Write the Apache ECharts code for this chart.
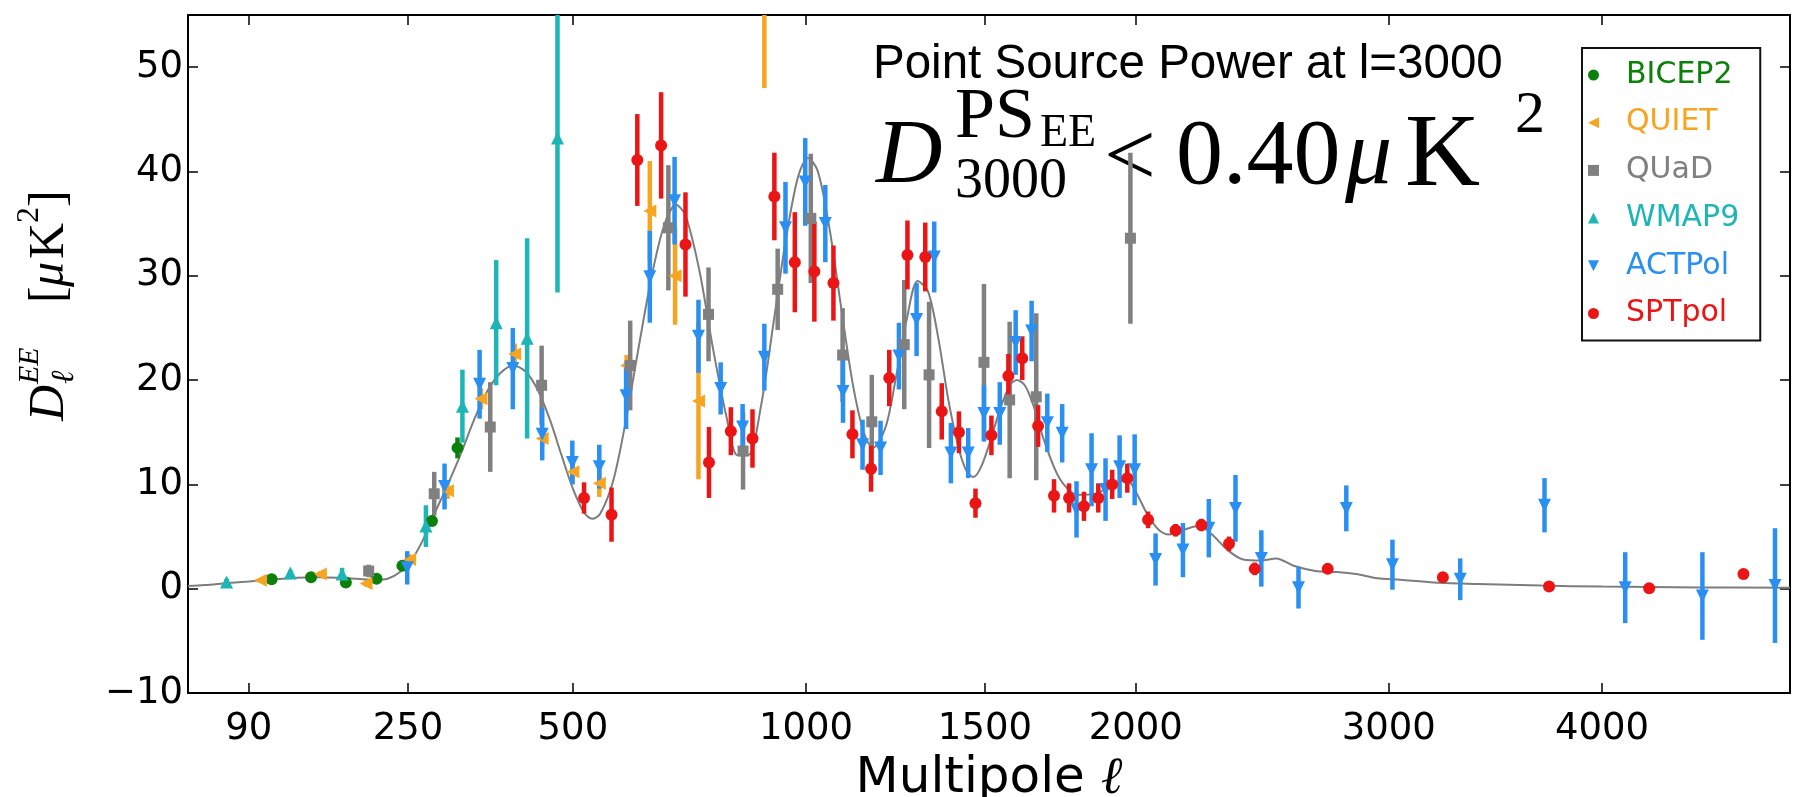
<!DOCTYPE html>
<html><head><meta charset="utf-8">
<script src="https://cdn.jsdelivr.net/npm/echarts@6/dist/echarts.min.js"></script>
<style>html,body{margin:0;padding:0;background:#fff}#c{width:1798px;height:797px}</style>
</head><body><div id="c"></div>
<script>
// ---- tick labels ----
const X_TICKS = [90, 250, 500, 1000, 1500, 2000, 3000, 4000];
const Y_TICKS = [-10, 0, 10, 20, 30, 40, 50];

// ---- theory curve (multipole l, D_l) ----
const THEORY_L = [50,60,75,90,110,130,150,170,190,210,225,240,255,270,285,300,320,340,360,380,400,420,440,460,480,500,520,535,550,575,600,625,650,675,700,720,750,780,810,835,860,890,920,950,980,1005,1030,1060,1090,1120,1150,1175,1210,1240,1270,1300,1330,1360,1390,1420,1445,1465,1490,1520,1550,1580,1600,1625,1650,1690,1740,1800,1860,1920,1970,2000,2040,2080,2120,2180,2230,2280,2340,2400,2470,2530,2600,2690,2780,2860,2950,3050,3200,3400,3700,4000,4500,5000];
const THEORY_D = [0.25,0.35,0.55,0.7,0.9,1.05,1.1,1.05,0.95,0.85,0.95,1.6,2.8,4.8,7.3,9.6,12.8,16.2,19.0,20.7,21.4,20.8,19.0,16.2,12.8,9.6,7.3,6.7,7.2,10.5,16.5,23.5,30,34.8,36.8,35.8,30.5,23,16.5,12.8,12.8,17.5,25.5,33.5,39.5,41.3,40,34.5,27,19.8,15,13.5,15.5,20.5,26,29.5,28.5,24,18,13.5,11.2,10.7,11.8,14.5,17.5,19.6,20.0,19.5,17.8,14,10.5,9,9.1,10,10.4,9.3,7.2,5.7,5.2,5.7,6.0,5.2,3.7,2.8,2.7,2.9,2.2,1.7,1.6,1.4,1.0,0.85,0.6,0.45,0.3,0.2,0.12,0.1];

// ---- BICEP2 ----
const BICEP2_L = [108, 143, 178, 212, 243, 281, 316];
const BICEP2_D = [0.9, 1.1, 0.6, 0.95, 2.2, 6.5, 13.5];
const BICEP2_ERR = [0.2, 0.2, 0.25, 0.2, 0.3, 0.5, 1.0];

// ---- QUIET ----
const QUIET_L = [99, 152, 200, 252, 302, 350, 402, 447, 500, 548, 600, 646, 698, 748, 898];
const QUIET_D = [0.8, 1.4, 0.5, 2.8, 9.4, 18.2, 22.5, 14.4, 11.2, 10.1, 21.4, 36.2, 30.0, 18.0, 60.0];
const QUIET_ERR = [0.2, 0.25, 0.3, 0.5, 0.8, 1.0, 1.0, 0.8, 1.2, 1.3, 1.0, 4.8, 4.7, 7.5, 12.0];

// ---- QUaD ----
const QUAD_L = [203, 284, 364, 446, 607, 684, 770, 848, 930, 1012, 1094, 1172, 1262, 1333, 1497, 1577, 1662, 1981];
const QUAD_D = [1.7, 9.1, 15.5, 19.5, 21.4, 34.6, 26.3, 13.2, 28.7, 35.5, 22.4, 16.0, 23.4, 20.5, 21.7, 18.1, 18.4, 33.6];
const QUAD_ERR = [0.6, 2.1, 4.3, 3.8, 4.3, 6.0, 4.5, 3.7, 3.9, 6.2, 4.5, 4.5, 6.2, 7.0, 7.5, 7.5, 8.0, 8.2];

// ---- WMAP9 ----
const WMAP_L = [74, 124, 174, 273, 323, 373, 422, 473];
const WMAP_D = [0.65, 1.5, 1.4, 6.0, 17.5, 25.5, 24.0, 43.2];
const WMAP_ERR = [0.3, 0.3, 0.6, 2.0, 3.5, 6.0, 9.6, 14.8];

// ---- ACTPol ----
const ACT_L = [249,298,348,399,447,499,548,599,646,697,748,797,847,898,949,998,1049,1095,1147,1196,1247,1297,1348,1397,1449,1497,1546,1596,1647,1698,1747,1795,1846,1894,1943,1996,2071,2171,2268,2370,2471,2620,2818,3016,3319,3716,4117,4520,4916];
const ACT_D = [2.0,9.8,19.6,21.1,14.8,12.1,11.7,18.5,29.9,37.2,24.2,19.2,15.5,22.2,34.6,39.0,35.0,18.9,13.8,13.5,22.3,25.8,31.8,13.0,13.0,16.8,16.8,23.6,24.7,15.9,14.9,7.6,11.4,9.5,11.7,11.4,2.8,3.7,5.8,7.7,2.9,0.1,7.7,2.3,0.9,8.0,0.1,-0.7,0.3];
const ACT_ERR = [1.6,2.2,3.3,3.9,2.5,2.1,2.1,3.2,4.4,4.2,3.5,2.5,2.2,3.2,4.4,4.2,3.7,3.0,2.4,2.6,3.2,3.5,3.4,2.9,2.4,2.7,3.0,3.1,2.9,2.8,2.8,2.7,3.5,3.0,3.0,3.4,2.5,2.6,2.8,3.2,2.7,2.0,2.2,2.4,2.0,2.6,3.4,4.2,5.5];

// ---- SPTpol ----
const SPT_L = [520,571,621,669,720,771,820,870,922,972,1021,1070,1120,1170,1220,1271,1322,1370,1421,1471,1520,1573,1617,1668,1720,1770,1820,1869,1917,1970,2044,2144,2240,2345,2445,2740,3240,3738,4240,4742];
const SPT_D = [8.7,7.1,41.1,42.5,33.0,12.1,15.1,14.4,37.6,31.3,30.4,29.3,14.8,11.5,20.2,32.0,31.8,17.0,15.0,8.2,14.7,20.4,22.1,15.6,8.9,8.7,7.9,8.7,10.0,10.6,6.6,5.6,6.1,4.3,1.9,1.9,1.1,0.2,0.05,1.4];
const SPT_ERR = [1.5,2.6,4.4,5.1,5.0,3.4,2.3,2.8,4.2,4.8,4.8,3.6,2.3,2.2,2.7,3.3,3.3,2.7,2.0,1.4,1.9,2.1,2.1,2.0,1.6,1.4,1.4,1.4,1.4,1.4,0.8,0.6,0.6,0.7,0.6,0.5,0.4,0.4,0.5,0.5];

const L_MIN = 50, L_MAX = 5000, Y_MIN = -10, Y_MAX = 55;
const sq = Math.sqrt;   // the horizontal axis is linear in sqrt(l)

const TRI_LEFT = 'path://M0,5L10,0L10,10Z';
const TRI_DOWN = 'path://M0,0L10,0L5,10Z';

const DATASETS = [
  {name:'BICEP2', L:BICEP2_L, D:BICEP2_D, E:BICEP2_ERR, color:'#0b800b', symbol:'circle',   size:12, rot:0,   icon:'circle'},
  {name:'QUIET',  L:QUIET_L,  D:QUIET_D,  E:QUIET_ERR,  color:'#f7a521', symbol:'triangle', size:13, rot:90,  icon:TRI_LEFT},
  {name:'QUaD',   L:QUAD_L,   D:QUAD_D,   E:QUAD_ERR,   color:'#808080', symbol:'rect',     size:11, rot:0,   icon:'rect'},
  {name:'WMAP9',  L:WMAP_L,   D:WMAP_D,   E:WMAP_ERR,   color:'#1db5b5', symbol:'triangle', size:13, rot:0,   icon:'triangle'},
  {name:'ACTPol', L:ACT_L,    D:ACT_D,    E:ACT_ERR,    color:'#2a8ff2', symbol:'triangle', size:13, rot:180, icon:TRI_DOWN},
  {name:'SPTpol', L:SPT_L,    D:SPT_D,    E:SPT_ERR,    color:'#ec1515', symbol:'circle',   size:12, rot:0,   icon:'circle'}
];

function errRender(color){
  return function(params, api){
    const x = api.value(0), y = api.value(1), e = api.value(2);
    const lo = Math.max(y - e, Y_MIN), hi = Math.min(y + e, Y_MAX);
    if (hi <= lo) return null;
    const p1 = api.coord([x, lo]), p2 = api.coord([x, hi]);
    return {type:'line', shape:{x1:p1[0], y1:p1[1], x2:p2[0], y2:p2[1]},
            style:{stroke:color, lineWidth:4.5}};
  };
}

const series = [{
  type:'line', name:'theory', silent:true, z:1,
  data: THEORY_L.map((l,i)=>[sq(l), THEORY_D[i]]),
  smooth:0.3, symbol:'none', lineStyle:{color:'#7d7d7d', width:2}
}];
DATASETS.forEach(ds=>{
  series.push({
    type:'custom', name: ds.name + ' err', z:2, silent:true,
    renderItem: errRender(ds.color),
    encode:{x:0, y:1},
    data: ds.L.map((l,i)=>[sq(l), ds.D[i], ds.E[i]])
  });
  series.push({
    type:'scatter', name: ds.name, z:3, clip:true,
    symbol: ds.symbol, symbolSize: ds.size, symbolRotate: ds.rot,
    itemStyle:{color: ds.color, opacity:1},
    data: ds.L.map((l,i)=>[sq(l), ds.D[i]])
  });
});

const tickStyle = {show:true, inside:true, length:10, lineStyle:{color:'#000', width:1.5}};
const lineStyle = {show:true, onZero:false, lineStyle:{color:'#000', width:2}};
const serif = 'Liberation Serif, DejaVu Serif, serif';

function txt(x, y, text, size, opt){
  opt = opt || {};
  return {type:'text', x:x, y:y, silent:true, style:{
    text:text, fontSize:size, fontFamily: opt.family || serif,
    fontStyle: opt.italic ? 'italic' : 'normal', fill:'#000',
    align:'left', verticalAlign:'middle'}};
}

const option = {
  backgroundColor:'#fff',
  animation:false,
  grid:{left:188, right:8, top:15, bottom:104, containLabel:false, outerBoundsMode:'none'},
  xAxis:[{
    type:'value', min:sq(L_MIN), max:sq(L_MAX), position:'bottom',
    axisLine: lineStyle,
    axisTick: Object.assign({customValues: X_TICKS.map(sq)}, tickStyle),
    axisLabel:{customValues: X_TICKS.map(sq), formatter: v => String(Math.round(v*v)),
               fontFamily:'DejaVu Sans', fontSize:37, color:'#000', margin:18},
    splitLine:{show:false},
    name:'{a|Multipole }{b|ℓ}', nameLocation:'middle', nameGap:29,
    nameTextStyle:{rich:{
      a:{fontFamily:'DejaVu Sans', fontSize:50, color:'#000'},
      b:{fontFamily:serif, fontStyle:'italic', fontSize:52, color:'#000'}
    }}
  },{
    type:'value', min:sq(L_MIN), max:sq(L_MAX), position:'top',
    axisLine: lineStyle,
    axisTick: Object.assign({customValues: X_TICKS.map(sq)}, tickStyle),
    axisLabel:{show:false}, splitLine:{show:false}
  }],
  yAxis:[{
    type:'value', min:Y_MIN, max:Y_MAX, position:'left',
    axisLine: lineStyle,
    axisTick: Object.assign({customValues: Y_TICKS}, tickStyle),
    axisLabel:{customValues: Y_TICKS, formatter: v => v < 0 ? '\u2212' + (-v) : String(v),
               fontFamily:'DejaVu Sans', fontSize:37, color:'#000', margin:5},
    splitLine:{show:false}
  },{
    type:'value', min:Y_MIN, max:Y_MAX, position:'right',
    axisLine: lineStyle,
    axisTick: Object.assign({customValues: Y_TICKS}, tickStyle),
    axisLabel:{show:false}, splitLine:{show:false}
  }],
  legend:{
    orient:'vertical', left:1582, top:48, padding:[12,21,12,6],
    itemGap:17.7, itemWidth:11, itemHeight:11,
    borderColor:'#111', borderWidth:2, backgroundColor:'#fff',
    selectedMode:false,
    textStyle:{fontFamily:'DejaVu Sans', fontSize:30, padding:[0,0,0,22]},
    data: DATASETS.map(d=>({name:d.name, icon:d.icon, textStyle:{color:d.color}}))
  },
  graphic:[
    txt(873, 65, 'Point Source Power at l=3000', 47.5, {family:'Liberation Sans, Arial, sans-serif'}),
    txt(876, 158, 'D', 92, {italic:true}),
    txt(955, 118, 'PS', 72),
    txt(1040, 134, 'EE', 46),
    txt(955, 182, '3000', 56),
    txt(1104, 161, '<', 92),
    txt(1176, 158, '0.40', 94),
    txt(1345, 158, 'μ', 94, {italic:true}),
    txt(1405, 158, 'K', 104),
    txt(1515, 116, '2', 60),
    {type:'group', x:50, y:421, rotation:Math.PI/2, children:[
      txt(0, 0, 'D', 50, {italic:true}),
      txt(37, -20, 'EE', 30, {italic:true}),
      txt(37, 15, 'ℓ', 32, {italic:true}),
      txt(118, 0, '[', 50),
      txt(134, 0, 'μ', 50, {italic:true}),
      txt(162, 0, 'K', 50),
      txt(198, -20, '2', 32),
      txt(214, 0, ']', 50)
    ]}
  ],
  series: series
};

const chart = echarts.init(document.getElementById('c'));
chart.setOption(option);
</script>
</body></html>
